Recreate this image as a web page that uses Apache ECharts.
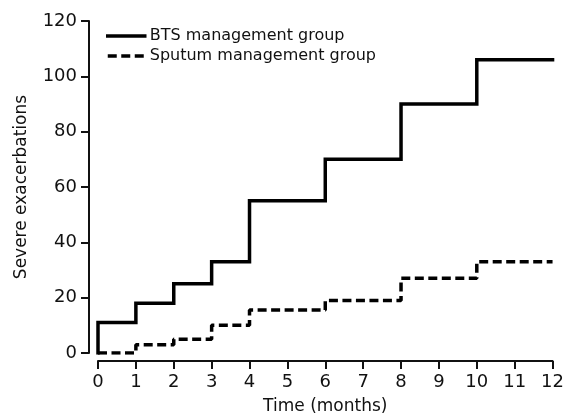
<!DOCTYPE html>
<html>
<head>
<meta charset="utf-8">
<script src="https://cdn.jsdelivr.net/npm/echarts@6/dist/echarts.min.js"></script>
<style>html,body{margin:0;padding:0;background:#fff;}#c{width:567px;height:420px;}</style>
</head>
<body>
<div id="c"></div>
<script>
const seriesNames = ["BTS management group", "Sputum management group"];
const btsMonths = [0, 0, 1, 2, 3, 4, 6, 8, 10, 12];
const btsValues = [0, 11, 18, 25, 33, 55, 70, 90, 106, 106];
const sputumMonths = [0, 1, 2, 3, 4, 6, 8, 10, 12];
const sputumValues = [0, 3, 5, 10, 15.5, 19, 27, 33, 33];
const xTicks = [0, 1, 2, 3, 4, 5, 6, 7, 8, 9, 10, 11, 12];
const yTicks = [0, 20, 40, 60, 80, 100, 120];

const pair = (xs, ys) => xs.map((x, i) => [x, ys[i]]);
const FONT = "DejaVu Sans";
const DASH = [9, 4.5];

const chart = echarts.init(document.getElementById('c'), null, {renderer: 'canvas'});
chart.setOption({
  animation: false,
  backgroundColor: '#fff',
  grid: {left: 98, right: 14, top: 21, bottom: 64},
  legend: {
    orient: 'vertical', left: 101, top: 23, itemGap: 4,
    itemWidth: 37, itemHeight: 14,
    itemStyle: {opacity: 0},
    lineStyle: {width: 3.5},
    textStyle: {fontFamily: FONT, fontSize: 16, color: '#111'},
    data: seriesNames
  },
  xAxis: {
    type: 'value', min: xTicks[0], max: xTicks[xTicks.length - 1], interval: 1,
    offset: 8,
    name: 'Time (months)', nameLocation: 'middle', nameGap: 37,
    nameTextStyle: {fontFamily: FONT, fontSize: 17, color: '#111'},
    axisLine: {onZero: false, lineStyle: {color: '#111', width: 2}},
    axisTick: {show: true, length: 8, lineStyle: {color: '#111', width: 2}},
    axisLabel: {fontFamily: FONT, fontSize: 18, color: '#111', margin: 12},
    splitLine: {show: false}
  },
  yAxis: {
    type: 'value', min: yTicks[0], max: yTicks[yTicks.length - 1], interval: 20,
    offset: 9,
    name: 'Severe exacerbations', nameLocation: 'middle', nameGap: 59,
    nameTextStyle: {fontFamily: FONT, fontSize: 17, color: '#111'},
    axisLine: {show: true, onZero: false, lineStyle: {color: '#111', width: 2}},
    axisTick: {show: true, length: 8, lineStyle: {color: '#111', width: 2}},
    axisLabel: {fontFamily: FONT, fontSize: 18, color: '#111', margin: 12},
    splitLine: {show: false}
  },
  series: [
    {
      name: seriesNames[0], type: 'line', step: 'end', symbol: 'none',
      data: pair(btsMonths, btsValues),
      lineStyle: {color: '#000', width: 3.5, cap: 'square', join: 'miter'},
      itemStyle: {color: '#000'}
    },
    {
      name: seriesNames[1], type: 'line', step: 'end', symbol: 'none',
      data: pair(sputumMonths, sputumValues),
      lineStyle: {color: '#000', width: 3.5, type: DASH},
      itemStyle: {color: '#000'}
    }
  ]
});
</script>
</body>
</html>
